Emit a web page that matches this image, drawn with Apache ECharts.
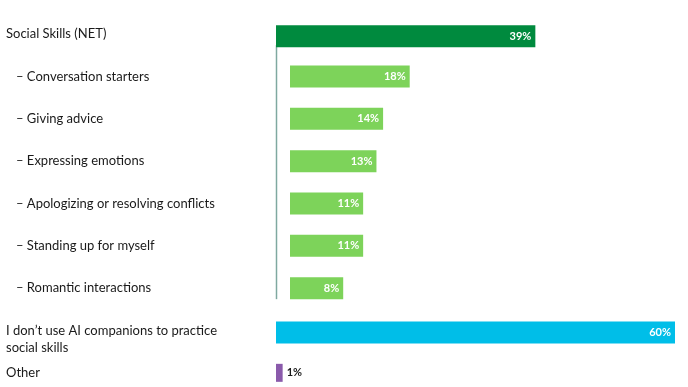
<!DOCTYPE html>
<html><head><meta charset="utf-8">
<script src="https://cdn.jsdelivr.net/npm/echarts@6/dist/echarts.min.js"></script>
<style>html,body{margin:0;padding:0;background:#fff}#c{width:688px;height:387px}</style>
</head><body><div id="c"></div>
<script>
const categories = ["Social Skills (NET)", "Conversation starters", "Giving advice", "Expressing emotions", "Apologizing or resolving conflicts", "Standing up for myself", "Romantic interactions", "I don’t use AI companions to practice\nsocial skills", "Other"];
const netValues = [39, null, null, null, null, null, null, null, null];
const subValues = [null, 18, 14, 13, 11, 11, 8, null, null];
const noneValues = [null, null, null, null, null, null, null, 60, null];
const otherValues = [null, null, null, null, null, null, null, null, 1];
const subCats = ["Conversation starters", "Giving advice", "Expressing emotions", "Apologizing or resolving conflicts", "Standing up for myself", "Romantic interactions"];

const FONT = 'Lato, "Open Sans", sans-serif';
const chart = echarts.init(document.getElementById('c'), null, {renderer:'canvas'});
const axisData = categories.map(c => {
  if (subCats.includes(c)) return {value: c, textStyle: {align:'left', padding: [0,0,0,10]}};
  return {value: c, textStyle: {align:'left', lineHeight: 17}};
});
const fmtLabel = (c) => subCats.includes(c) ? '– ' + c : (c.indexOf('\n') >= 0 ? '\n' + c : c);
const gridTop = 13, gridH = 381;
const insideLabel = {show:true, position:'insideRight', color:'#fff', fontWeight:'bold', fontSize:11, fontFamily:FONT, distance:4, formatter:'{c}%'};
chart.setOption({
  animation:false,
  grid:[
    {left:276, top:gridTop, width:399, height:gridH, containLabel:false, outerBoundsMode:'none'},
    {left:290, top:gridTop, width:399, height:gridH, containLabel:false, outerBoundsMode:'none'}
  ],
  xAxis:[
    {gridIndex:0, type:'value', min:0, max:60, show:false},
    {gridIndex:1, type:'value', min:0, max:60, show:false}
  ],
  yAxis:[
    {gridIndex:0, type:'category', inverse:true, data:axisData,
     axisLine:{show:false}, axisTick:{show:false},
     axisLabel:{align:'left', margin:270, color:'#1a1a1a', fontSize:13, fontFamily:FONT, formatter:fmtLabel}},
    {gridIndex:1, type:'category', inverse:true, data:categories, show:false}
  ],
  series:[
    {type:'bar', xAxisIndex:0, yAxisIndex:0, data:netValues, barWidth:22, barGap:'-100%', itemStyle:{color:'#008a3e'}, label:insideLabel},
    {type:'bar', xAxisIndex:0, yAxisIndex:0, data:noneValues, barWidth:22, barGap:'-100%', itemStyle:{color:'#00bee8'}, label:insideLabel},
    {type:'bar', xAxisIndex:0, yAxisIndex:0, data:otherValues, barWidth:18, barGap:'-100%', itemStyle:{color:'#8a5aab'},
     label:{show:true, position:'right', color:'#1a1a1a', fontWeight:'bold', fontSize:11, fontFamily:FONT, distance:4, formatter:'{c}%'}},
    {type:'bar', xAxisIndex:1, yAxisIndex:1, data:subValues, barWidth:22, itemStyle:{color:'#7dd35a'}, label:insideLabel}
  ]
});
const p1 = chart.convertToPixel({gridIndex:0}, [0, categories[0]]);
const p2 = chart.convertToPixel({gridIndex:0}, [0, categories[6]]);
chart.setOption({graphic:[{type:'line', shape:{x1:p1[0]+0.5, y1:p1[1]+11, x2:p2[0]+0.5, y2:p2[1]+11}, style:{stroke:'#7fa9a0', lineWidth:1.5}}]});
</script></body></html>
